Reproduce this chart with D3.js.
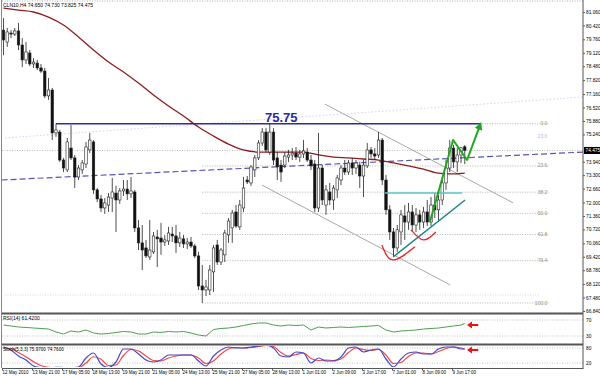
<!DOCTYPE html>
<html>
<head>
<meta charset="utf-8">
<script src="https://cdn.jsdelivr.net/npm/d3@7"></script>
<style>
  body { margin: 0; background: #fff; }
  svg text { font-family: "Liberation Sans", Arial, sans-serif; }
</style>
</head>
<body>
<div id="chart"></div>
<script>
// H4 candles, 12 May - 9 Jun 2010
const title = "CLN10,H4  74.650 74.730 73.825 74.475";

const opens = [80.20, 79.63, 80.06, 80.01, 80.16, 79.49, 78.78, 79.11, 78.59, 78.63,
    78.40, 78.25, 77.07, 77.35, 75.31, 75.35, 74.02, 73.55, 74.59, 74.12,
    73.21, 73.55, 73.83, 74.50, 74.88, 72.60, 72.17, 71.74, 71.88, 72.21,
    72.45, 72.12, 72.55, 72.64, 72.41, 72.50, 70.79, 70.08, 69.84, 69.41,
    69.65, 70.36, 70.31, 70.12, 70.17, 70.50, 70.41, 70.08, 70.27, 70.03,
    70.12, 69.93, 69.46, 68.03, 67.84, 67.84, 68.70, 69.98, 69.17, 69.51,
    70.46, 70.79, 71.55, 70.84, 71.74, 73.07, 72.93, 73.55, 74.12, 74.83,
    75.35, 74.40, 75.35, 74.12, 73.78, 73.78, 74.16, 74.26, 74.35, 74.16,
    74.31, 74.40, 74.02, 73.83, 71.74, 73.64, 71.88, 72.50, 72.12, 72.60,
    73.07, 73.64, 73.45, 73.88, 73.64, 73.78, 73.26, 73.74, 74.50, 74.31,
    74.26, 74.97, 73.07, 71.65, 70.60, 69.84, 70.60, 71.36, 71.07, 71.55,
    70.93, 71.41, 71.07, 71.55, 71.07, 71.88, 71.65, 72.12, 72.93, 73.64,
    74.59, 73.93, 74.26, 74.65];
const highs = [80.77, 80.30, 80.20, 80.30, 80.54, 79.82, 79.63, 79.25, 78.87, 78.78,
    78.59, 78.40, 77.92, 77.45, 75.75, 75.45, 74.12, 75.07, 75.69, 74.26,
    73.78, 74.02, 74.88, 75.31, 74.97, 72.69, 72.36, 72.21, 72.45, 73.17,
    72.79, 72.69, 73.07, 73.07, 73.21, 72.60, 71.17, 70.93, 70.22, 71.17,
    70.60, 70.70, 71.03, 70.46, 70.84, 70.84, 70.93, 70.60, 70.46, 70.31,
    70.36, 70.03, 69.65, 69.03, 68.32, 69.03, 69.98, 70.22, 69.84, 70.70,
    71.26, 71.65, 71.88, 72.12, 73.21, 73.26, 73.78, 74.26, 74.97, 75.54,
    75.54, 75.75, 75.54, 74.40, 74.02, 74.40, 74.50, 74.59, 74.64, 74.50,
    74.97, 74.59, 74.26, 74.02, 75.31, 73.78, 72.83, 72.93, 72.83, 73.31,
    73.78, 74.02, 74.02, 74.12, 74.02, 73.93, 74.02, 74.83, 74.64, 74.59,
    75.35, 75.07, 73.31, 71.88, 70.79, 70.93, 71.65, 71.88, 71.98, 71.88,
    71.74, 71.65, 71.79, 72.12, 72.26, 72.45, 72.36, 73.17, 74.02, 74.97,
    74.74, 74.59, 74.64, 74.73];
const lows = [79.01, 79.40, 79.82, 79.92, 79.25, 78.44, 78.59, 78.49, 78.40, 78.30,
    78.16, 76.97, 76.88, 74.97, 75.12, 73.93, 73.45, 73.45, 74.02, 72.69,
    73.07, 73.36, 73.64, 74.35, 72.41, 72.02, 71.55, 71.46, 71.55, 71.55,
    70.60, 71.93, 72.31, 72.12, 72.21, 70.60, 69.74, 68.79, 69.36, 69.27,
    69.55, 68.93, 69.51, 69.93, 69.98, 70.12, 69.60, 69.89, 69.84, 69.79,
    69.84, 69.36, 67.84, 67.22, 67.56, 67.60, 67.75, 69.03, 69.03, 69.17,
    70.08, 70.08, 70.79, 70.70, 71.55, 72.88, 72.79, 73.21, 74.02, 74.69,
    74.40, 74.26, 73.78, 73.07, 72.98, 73.64, 73.93, 74.02, 74.02, 73.93,
    74.12, 73.93, 73.55, 71.55, 71.55, 71.88, 71.41, 71.88, 71.65, 72.21,
    72.83, 73.31, 73.31, 73.31, 73.36, 72.69, 72.26, 73.64, 74.12, 74.02,
    74.12, 72.83, 71.41, 70.22, 69.46, 69.65, 69.98, 70.22, 70.70, 70.60,
    70.60, 70.70, 70.79, 70.88, 70.88, 71.26, 71.07, 71.88, 72.60, 73.45,
    73.64, 73.45, 73.88, 73.825];
const closes = [79.73, 80.11, 80.01, 80.16, 79.49, 78.78, 79.16, 78.59, 78.68, 78.40,
    78.25, 77.07, 77.35, 75.31, 75.45, 74.02, 73.64, 74.88, 74.12, 73.21,
    73.64, 73.88, 74.64, 74.97, 72.60, 72.17, 71.74, 71.98, 72.26, 72.50,
    72.12, 72.55, 72.64, 72.41, 72.55, 70.79, 70.08, 69.74, 69.46, 69.74,
    70.41, 70.27, 70.12, 70.22, 70.55, 70.41, 70.08, 70.31, 70.03, 70.12,
    69.93, 69.46, 68.03, 67.84, 67.98, 68.79, 69.84, 69.17, 69.74, 70.55,
    71.12, 71.50, 70.88, 71.88, 72.69, 72.98, 73.69, 74.12, 74.83, 75.35,
    74.50, 75.35, 74.02, 73.69, 73.45, 74.21, 74.26, 74.35, 74.16, 74.31,
    74.45, 74.02, 73.74, 71.74, 73.64, 72.12, 72.60, 72.12, 72.69, 73.17,
    73.64, 73.45, 73.88, 73.64, 73.88, 73.26, 73.78, 74.50, 74.31, 74.21,
    74.97, 73.07, 71.65, 70.60, 69.84, 70.70, 71.41, 71.07, 71.55, 70.93,
    71.41, 71.07, 71.55, 71.07, 71.88, 71.65, 72.12, 72.93, 73.64, 74.59,
    73.93, 74.26, 74.60, 74.475];

// moving average (dark red), read every 4 bars
const maBars = [0, 4, 8, 12, 16, 20, 24, 28, 32, 36, 40, 44, 48, 52, 56, 60, 64, 68, 72, 76,
    80, 84, 88, 92, 96, 100, 104, 108, 112, 116, 120, 123];
const maValues = [81.25, 81.15, 81.06, 80.82, 80.44, 79.87, 79.25, 78.68, 78.21, 77.68,
    77.11, 76.59, 76.11, 75.59, 75.16, 74.78, 74.50, 74.40, 74.40, 74.40,
    74.40, 74.26, 74.16, 74.12, 74.07, 74.02, 73.88, 73.74, 73.59, 73.40, 73.36, 73.40];

// oscillators, read every 2 bars
const oscBars = [0, 2, 4, 6, 8, 10, 12, 14, 16, 18, 20, 22, 24, 26, 28, 30, 32, 34, 36, 38,
    40, 42, 44, 46, 48, 50, 52, 54, 56, 58, 60, 62, 64, 66, 68, 70, 72, 74, 76, 78,
    80, 82, 84, 86, 88, 90, 92, 94, 96, 98, 100, 102, 104, 106, 108, 110, 112, 114, 116, 118,
    120, 122, 123];
const rsiValues = [57.5, 55, 52.5, 51.3, 50, 48.8, 47.5, 40, 35, 42.5, 40, 45, 37.5, 35, 36.3, 38.8, 41.3, 40, 35, 35,
    40, 38.8, 41.3, 40, 41.3, 37.5, 32.5, 30, 46.3, 48.8, 50, 52.5, 56.3, 60, 62.5, 62.5, 57.5, 55, 57.5, 56.3,
    57.5, 45, 52.5, 50, 51.3, 52.5, 51.3, 52.5, 53.8, 55, 56.3, 45, 40, 42.5, 43.8, 45, 47.5, 48.8, 50, 52.5,
    55, 57.5, 61.42];
const stochMain = [84, 72, 48, 32, 8, 2, 1, 3, 2, 1, 4, 40, 60, 16, 2, 24, 76, 76, 56, 32,
    24, 32, 52, 52, 52, 52, 28, 8, 48, 72, 84, 80, 80, 84, 88, 92, 80, 48, 44, 64,
    60, 20, 40, 28, 28, 44, 80, 84, 64, 72, 76, 36, 4, 36, 60, 64, 56, 56, 76, 84,
    84, 76, 75.97];
const stochSignal = [80, 78, 62, 45, 25, 10, 3, 2, 2, 2, 2, 20, 45, 35, 10, 12, 50, 74, 68, 48,
    30, 28, 40, 48, 52, 52, 40, 18, 28, 56, 76, 82, 80, 82, 86, 90, 86, 62, 48, 54,
    60, 38, 30, 32, 30, 36, 62, 80, 74, 70, 74, 52, 18, 22, 46, 60, 60, 56, 66, 78,
    84, 80, 74.76];

const timeLabels = ["12 May 2010", "13 May 21:00", "17 May 05:00", "18 May 13:00", "19 May 21:00",
    "21 May 05:00", "24 May 13:00", "25 May 21:00", "27 May 05:00", "28 May 13:00",
    "1 Jun 01:00", "2 Jun 09:00", "3 Jun 17:00", "7 Jun 01:00", "8 Jun 09:00", "9 Jun 17:00"];
const labelBars = [0, 8, 16, 24, 32, 40, 48, 56, 64, 72, 80, 88, 96, 104, 112, 120];
const priceTicks = [81.06, 80.42, 79.76, 79.12, 78.48, 77.82, 77.16, 76.52, 75.88, 75.24,
    73.94, 73.30, 72.66, 72.00, 71.36, 70.72, 70.06, 69.42, 68.78, 68.12, 67.48, 66.84];
const lastPrice = 74.475;

// drawn objects, as [bar, price]
const resistance = 75.75;
const fibLow = 67.22;
const fibLevels = [0, 23.6, 38.2, 50, 61.8, 76.4, 100];
const channelUpper = [[85.7, 76.68], [135.9, 71.98]];
const channelLower = [[68.9, 72.83], [119.1, 68.08]];
const dashedTrend = [[-0.5, 73.07], [154.6, 74.40]];
const faintTrend = [[0.4, 75.07], [154.6, 77.02]];
const faintLevel = 67.60;
const neckline = 72.45;
const supportTrend = [[103.9, 69.41], [123.1, 72.12]];
const arcs = [
    [[100.9, 69.98], [103.9, 69.27], [109.7, 69.89]],
    [[108.7, 70.70], [112.0, 70.22], [115.3, 70.60]]
];
const zigzag = [[113.7, 71.07], [119.9, 74.97], [123.6, 74.02], [127.1, 75.69]];

let svg = d3.select('#chart').append('svg')
    .attr('width', 600)
    .attr('height', 376)

const left = 2, right = 583;

let x = d3.scaleLinear().domain([0, 123]).range([3.5, 464.75]);
let y = d3.scaleLinear().domain([66.84, 81.06]).range([311, 12]);
let yRsi = d3.scaleLinear().domain([30, 70]).range([336, 320]);
let ySt = d3.scaleLinear().domain([0, 100]).range([368, 343]);

let defs = svg.append('defs');
defs.append('clipPath').attr('id', 'clipMain')
    .append('rect').attr('x', left).attr('y', 0).attr('width', right - left).attr('height', 312);
defs.append('clipPath').attr('id', 'clipRsi')
    .append('rect').attr('x', left).attr('y', 315).attr('width', right - left).attr('height', 28);
defs.append('clipPath').attr('id', 'clipSt')
    .append('rect').attr('x', left).attr('y', 346).attr('width', right - left).attr('height', 21);
defs.append('marker').attr('id', 'greenHead')
    .attr('viewBox', '0 0 10 10').attr('refX', 6).attr('refY', 5)
    .attr('markerWidth', 4).attr('markerHeight', 4).attr('orient', 'auto')
    .append('path').attr('d', 'M0,0 L10,5 L0,10 Z').attr('fill', '#1fa81f');

let dotted = function (g, x1, x2, yy, color) {
    g.append('line')
        .attr('x1', x1).attr('x2', x2).attr('y1', yy).attr('y2', yy)
        .attr('stroke', color).attr('stroke-width', 0.8)
        .attr('stroke-dasharray', '1,1.5');
}

// ---------- main panel ----------
let main = svg.append('g').attr('clip-path', 'url(#clipMain)');

dotted(main, left, right, 1, '#999');
dotted(main, left, right, y(lastPrice), '#aaa');

// faint lavender objects
dotted(main, x(0.4), x(143), y(faintLevel), '#c8c8ee');
main.append('line')
    .attr('x1', x(faintTrend[0][0])).attr('y1', y(faintTrend[0][1]))
    .attr('x2', x(faintTrend[1][0])).attr('y2', y(faintTrend[1][1]))
    .attr('stroke', '#c8c8ee').attr('stroke-width', 0.8).attr('stroke-dasharray', '1.5,2');

// fibonacci retracement
let fibEnd = x(145.3);
fibLevels.forEach(function (lv) {
    let p = resistance - (resistance - fibLow) * lv / 100;
    dotted(main, x(53), fibEnd, y(p), '#a0a0a0');
    main.append('text')
        .attr('x', fibEnd - 1).attr('y', y(p) + 1.5)
        .attr('text-anchor', 'end')
        .attr('font-size', 5).attr('fill', '#9c9278')
        .text(lv.toFixed(1));
});
main.append('text')
    .attr('x', fibEnd - 1).attr('y', y(75.16) + 1.5)
    .attr('text-anchor', 'end')
    .attr('font-size', 5).attr('fill', '#b8b8ee')
    .text('23.6');

let seg = d3.line().x(d => x(d[0])).y(d => y(d[1]));

// grey channel
[channelUpper, channelLower].forEach(function (c) {
    main.append('path').attr('d', seg(c))
        .attr('fill', 'none').attr('stroke', '#a8a8a8').attr('stroke-width', 1);
});

// dashed trend line
main.append('path').attr('d', seg(dashedTrend))
    .attr('fill', 'none').attr('stroke', '#5656b8').attr('stroke-width', 1.2)
    .attr('stroke-dasharray', '6,3');

// moving average
main.append('path')
    .attr('d', d3.line().curve(d3.curveMonotoneX)
        .x((d, i) => x(maBars[i])).y(d => y(d))(maValues))
    .attr('fill', 'none').attr('stroke', '#8e1c1c').attr('stroke-width', 1.3);

// candles
let data = opens.map((o, i) => ({ i: i, o: o, h: highs[i], l: lows[i], c: closes[i] }));

let candles = main.selectAll('g.candle')
    .data(data)
    .enter()
    .append('g').attr('class', 'candle');

candles.append('line')
    .attr('x1', d => x(d.i)).attr('x2', d => x(d.i))
    .attr('y1', d => y(d.h)).attr('y2', d => y(d.l))
    .attr('stroke', '#222').attr('stroke-width', 0.8);

candles.append('rect')
    .attr('x', d => x(d.i) - 1.25)
    .attr('width', 2.5)
    .attr('y', d => y(Math.max(d.o, d.c)))
    .attr('height', d => Math.max(0.8, Math.abs(y(d.o) - y(d.c))))
    .attr('fill', d => d.c >= d.o ? '#fff' : '#111')
    .attr('stroke', '#222').attr('stroke-width', 0.6);

// resistance line and its label
main.append('line')
    .attr('x1', x(14)).attr('x2', x(127.1))
    .attr('y1', y(resistance)).attr('y2', y(resistance))
    .attr('stroke', '#2e2ea0').attr('stroke-width', 1.5);
main.append('text')
    .attr('x', 265).attr('y', y(resistance) - 2)
    .attr('font-size', 13).attr('font-weight', 'bold').attr('fill', '#2b2b99')
    .text(resistance.toFixed(2));

// neckline, support trend
main.append('line')
    .attr('x1', x(101.7)).attr('x2', x(122.3))
    .attr('y1', y(neckline)).attr('y2', y(neckline))
    .attr('stroke', '#5cc6c6').attr('stroke-width', 1.5);
main.append('path').attr('d', seg(supportTrend))
    .attr('fill', 'none').attr('stroke', '#1b8686').attr('stroke-width', 1.5);

// red arcs
arcs.forEach(function (a) {
    main.append('path')
        .attr('d', d3.line().curve(d3.curveNatural).x(d => x(d[0])).y(d => y(d[1]))(a))
        .attr('fill', 'none').attr('stroke', '#ee2222').attr('stroke-width', 1.3);
});

// green projection
main.append('path').attr('d', seg(zigzag))
    .attr('fill', 'none').attr('stroke', '#1fa81f').attr('stroke-width', 2)
    .attr('stroke-linejoin', 'round')
    .attr('marker-end', 'url(#greenHead)');

// title
svg.append('text').attr('x', 3).attr('y', 7)
    .attr('font-size', 5).attr('fill', '#000').text(title);

// ---------- RSI panel ----------
let rsi = svg.append('g').attr('clip-path', 'url(#clipRsi)');
dotted(rsi, left, right, yRsi(70), '#b0b0b0');
dotted(rsi, left, right, yRsi(30), '#b0b0b0');
rsi.append('path')
    .attr('d', d3.line().x((d, i) => x(oscBars[i])).y(d => yRsi(d))(rsiValues))
    .attr('fill', 'none').attr('stroke', '#4f9f4f').attr('stroke-width', 1);
svg.append('text').attr('x', 3).attr('y', 320)
    .attr('font-size', 5).text('RSI(14) ' + rsiValues[rsiValues.length - 1].toFixed(4));

// ---------- Stochastic panel ----------
let st = svg.append('g').attr('clip-path', 'url(#clipSt)');
dotted(st, left, right, ySt(80), '#b0b0b0');
dotted(st, left, right, ySt(20), '#b0b0b0');
st.append('path')
    .attr('d', d3.line().curve(d3.curveMonotoneX).x((d, i) => x(oscBars[i])).y(d => ySt(d))(stochSignal))
    .attr('fill', 'none').attr('stroke', '#f04848').attr('stroke-width', 1.2);
st.append('path')
    .attr('d', d3.line().curve(d3.curveMonotoneX).x((d, i) => x(oscBars[i])).y(d => ySt(d))(stochMain))
    .attr('fill', 'none').attr('stroke', '#4646cc').attr('stroke-width', 1.2);
svg.append('text').attr('x', 3).attr('y', 351)
    .attr('font-size', 4.6)
    .text('Stoch(5,3,3) ' + stochMain[stochMain.length - 1].toFixed(4) + ' ' + stochSignal[stochSignal.length - 1].toFixed(4));

// red arrows pointing at the latest oscillator readings
let redArrow = function (yy) {
    let tip = x(123.6), tail = x(126.6);
    svg.append('line').attr('x1', tip + 3).attr('x2', tail).attr('y1', yy).attr('y2', yy)
        .attr('stroke', '#ee1111').attr('stroke-width', 2);
    svg.append('path')
        .attr('d', 'M' + tip + ',' + yy + ' l5,-3.5 l0,7 Z')
        .attr('fill', '#ee1111');
}
redArrow(yRsi(57.5));
redArrow(ySt(72));

// ---------- frames ----------
svg.append('line').attr('x1', left - 0.5).attr('x2', left - 0.5).attr('y1', 0).attr('y2', 368)
    .attr('stroke', '#888').attr('stroke-width', 1);
svg.append('line').attr('x1', right).attr('x2', right).attr('y1', 0).attr('y2', 369)
    .attr('stroke', '#555').attr('stroke-width', 1);
[313.5, 344.5].forEach(function (yy) {
    svg.append('line').attr('x1', left).attr('x2', right).attr('y1', yy).attr('y2', yy)
        .attr('stroke', '#555').attr('stroke-width', 2);
});
svg.append('line').attr('x1', left).attr('x2', right).attr('y1', 368.5).attr('y2', 368.5)
    .attr('stroke', '#555').attr('stroke-width', 1);

// ---------- axes ----------
let yAxis = svg.append('g')
    .attr('transform', 'translate(' + right + ',0)')
    .call(d3.axisRight(y).tickValues(priceTicks).tickSize(2).tickPadding(1)
        .tickFormat(d3.format('.3f')));
yAxis.select('.domain').remove();
yAxis.selectAll('text').attr('font-size', 4.8).attr('font-family', '"Liberation Sans", Arial, sans-serif');
yAxis.selectAll('line').attr('stroke', '#555');

// sub-panel scale labels
[[yRsi(70), '70'], [yRsi(30), '30'], [ySt(80), '80'], [ySt(20), '20']].forEach(function (t) {
    svg.append('text').attr('x', right + 3).attr('y', t[0] + 1.7)
        .attr('font-size', 4.8).text(t[1]);
});

// current price tag
svg.append('rect').attr('x', right + 1).attr('y', y(lastPrice) - 3.5)
    .attr('width', 16).attr('height', 7).attr('fill', '#000');
svg.append('text').attr('x', right + 2.5).attr('y', y(lastPrice) + 1.7)
    .attr('font-size', 4.8).attr('fill', '#fff').text(lastPrice.toFixed(3));

let xAxis = svg.append('g')
    .attr('transform', 'translate(0,368.5)')
    .call(d3.axisBottom(x).tickValues(labelBars).tickSize(2)
        .tickFormat((d, i) => timeLabels[i]));
xAxis.select('.domain').remove();
xAxis.selectAll('line').attr('stroke', '#555').attr('transform', 'translate(-1.5,0)');
xAxis.selectAll('text')
    .attr('text-anchor', 'start')
    .attr('x', -1.5).attr('y', 2).attr('dy', '0.71em')
    .attr('font-size', 4.5).attr('font-family', '"Liberation Sans", Arial, sans-serif');
</script>
</body>
</html>
